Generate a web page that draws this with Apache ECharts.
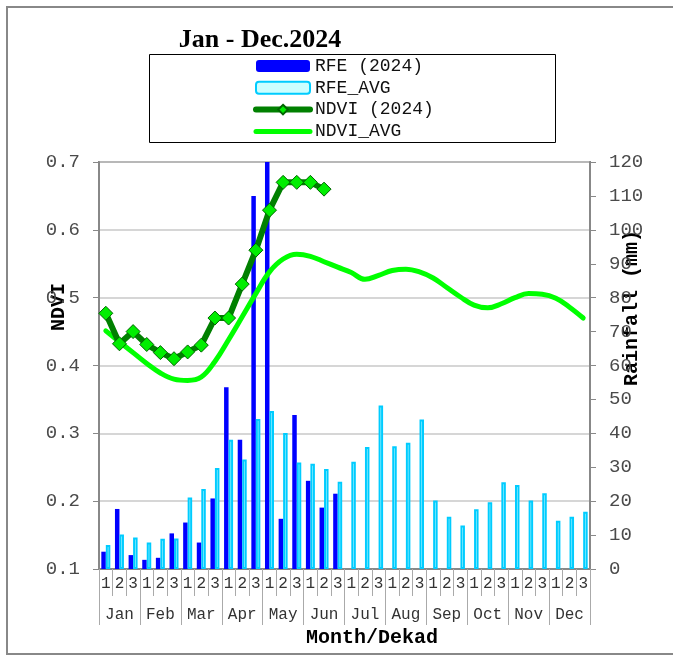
<!DOCTYPE html>
<html><head><meta charset="utf-8">
<script src="https://cdn.jsdelivr.net/npm/echarts@6/dist/echarts.min.js"></script>
<style>html,body{margin:0;padding:0;background:#fff}#c{width:673px;height:655px}</style>
</head><body><div id="c"></div>
<script>
const months = ['Jan','Feb','Mar','Apr','May','Jun','Jul','Aug','Sep','Oct','Nov','Dec'];
const dekads = [].concat(...months.map(() => ['1','2','3']));
const rfe2024 = [5.1,17.7,4.1,2.7,3.3,10.5,13.7,7.8,20.8,53.6,38.1,110,130,14.8,45.4,26.0,18.1,22.2,
  null,null,null,null,null,null,null,null,null,null,null,null,null,null,null,null,null,null];
const rfeAvg = [7.1,10.2,9.3,7.8,8.9,9.0,21.1,23.6,29.8,38.1,32.3,44.2,46.6,40.1,31.4,31.0,29.5,25.7,
  31.6,36.0,48.2,36.2,37.2,44.1,20.2,15.4,12.8,17.6,19.7,25.6,24.8,20.2,22.3,14.2,15.4,16.9];
const ndvi2024 = [0.477,0.432,0.450,0.431,0.419,0.410,0.420,0.430,0.470,0.470,0.520,0.570,0.629,0.670,0.670,0.670,0.660,
  null,null,null,null,null,null,null,null,null,null,null,null,null,null,null,null,null,null,null];
const ndviAvg = [0.451,0.435,0.419,0.403,0.389,0.380,0.378,0.383,0.406,0.438,0.472,0.506,0.538,0.557,0.564,0.561,0.553,0.545,
  0.537,0.527,0.533,0.540,0.542,0.538,0.529,0.515,0.501,0.489,0.485,0.491,0.500,0.506,0.505,0.499,0.486,0.470];

const MONO = '"Liberation Mono", "Courier New", monospace';
const chart = echarts.init(document.getElementById('c'), null, {renderer:'canvas'});
chart.setOption({
  animation: false,
  backgroundColor: '#fff',
  grid: {left: 99, right: 83, top: 162, bottom: 86, show: true, borderColor: '#888', borderWidth: 2,
         containLabel: false, outerBoundsMode: 'none'},
  legend: {
    orient: 'vertical', left: 248, top: 52, itemWidth: 54, itemHeight: 12, itemGap: 3.8,
    textStyle: {fontFamily: MONO, fontSize: 18, color: '#111'},
    lineStyle: {width: 'inherit'},
    data: [
      {name:'RFE (2024)'},
      {name:'RFE_AVG'},
      {name:'NDVI (2024)'},
      {name:'NDVI_AVG', itemStyle:{opacity:0}}
    ]
  },
  graphic: [
    {type:'rect', shape:{x:7,y:7,width:700,height:647}, style:{fill:'none', stroke:'#888', lineWidth:2}, z:-1},
    {type:'rect', shape:{x:149.5,y:54.5,width:406,height:88}, style:{fill:'none', stroke:'#000', lineWidth:1}},
    {type:'text', x:260, y:40, style:{text:'Jan - Dec.2024', font:'bold 26px "Liberation Serif", serif', fill:'#000', textAlign:'center', textVerticalAlign:'middle'}},
    {type:'text', x:59, y:307, rotation:Math.PI/2, style:{text:'NDVI', font:'bold 20px '+MONO, fill:'#000', textAlign:'center', textVerticalAlign:'middle'}},
    {type:'text', x:632, y:308, rotation:Math.PI/2, style:{text:'Rainfall (mm)', font:'bold 20px '+MONO, fill:'#000', textAlign:'center', textVerticalAlign:'middle'}},
    {type:'text', x:372, y:638, style:{text:'Month/Dekad', font:'bold 20px '+MONO, fill:'#000', textAlign:'center', textVerticalAlign:'middle'}}
  ],
  xAxis: [
    {type:'category', data: dekads, position:'bottom', boundaryGap:true,
     axisLine:{show:true, lineStyle:{color:'#888', width:2}},
     axisTick:{show:true, interval:0, length:27, lineStyle:{color:'#aaa', width:1}},
     axisLabel:{interval:0, margin:7, fontFamily:MONO, fontSize:16, color:'#333'},
     splitLine:{show:false}},
    {type:'category', data: months, position:'bottom', boundaryGap:true,
     axisLine:{show:false},
     axisTick:{show:true, interval:0, length:56, lineStyle:{color:'#aaa', width:1}},
     axisLabel:{interval:0, margin:38, fontFamily:MONO, fontSize:16, color:'#333'},
     splitLine:{show:false}}
  ],
  yAxis: [
    {type:'value', min:0.1, max:0.7, interval:0.1, position:'left',
     axisLine:{show:true, lineStyle:{color:'#888', width:2}},
     axisTick:{show:true, length:6, lineStyle:{color:'#888'}},
     axisLabel:{margin:19, fontFamily:MONO, fontSize:19, color:'#4a4a4a', formatter: v => v.toFixed(1)},
     splitLine:{show:true, lineStyle:{color:'#c8c8c8', width:1.5}}},
    {type:'value', min:0, max:120, interval:10, position:'right',
     axisLine:{show:true, lineStyle:{color:'#888', width:2}},
     axisTick:{show:true, length:6, lineStyle:{color:'#888'}},
     axisLabel:{margin:19, fontFamily:MONO, fontSize:19, color:'#4a4a4a'},
     splitLine:{show:false}}
  ],
  series: [
    {name:'RFE (2024)', type:'bar', xAxisIndex:0, yAxisIndex:1, data: rfe2024, barWidth:4.5, barGap:'0%',
     itemStyle:{color:'#0000ff'}, clip:true, z:2},
    {name:'RFE_AVG', type:'bar', xAxisIndex:0, yAxisIndex:1, data: rfeAvg, barWidth:4.5, barGap:'0%',
     itemStyle:{color:'#ccffff', borderColor:'#00ccff', borderWidth:2}, clip:true, z:2},
    {name:'NDVI_AVG', type:'line', xAxisIndex:0, yAxisIndex:0, data: ndviAvg, smooth:0.4, symbol:'none',
     lineStyle:{color:'#00ff00', width:5, cap:'round', join:'round'}, itemStyle:{color:'#00ff00'}, z:3},
    {name:'NDVI (2024)', type:'line', xAxisIndex:0, yAxisIndex:0, data: ndvi2024, smooth:false,
     symbol:'diamond', symbolSize:14, showAllSymbol:true, connectNulls:false,
     lineStyle:{color:'#008000', width:6, cap:'round', join:'round'},
     itemStyle:{color:'#00ee00', borderColor:'#006400', borderWidth:1}, z:4}
  ]
});
</script></body></html>
